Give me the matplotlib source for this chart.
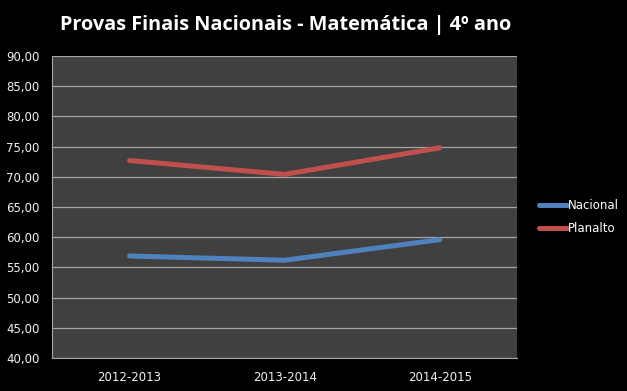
import matplotlib.pyplot as plt

anos = ["2012-2013", "2013-2014", "2014-2015"]
nacional = [56.9, 56.2, 59.6]
planalto = [72.7, 70.4, 74.8]
yticks = [40, 45, 50, 55, 60, 65, 70, 75, 80, 85, 90]

fig = plt.figure(figsize=(6.27, 3.91), dpi=100, facecolor="black")
ax = fig.add_axes([0.083, 0.084, 0.742, 0.773])
ax.set_facecolor("#404040")

x = range(len(anos))
ax.plot(x, nacional, color="#4F81BD", lw=3.6, solid_capstyle="round", label="Nacional")
ax.plot(x, planalto, color="#C0504D", lw=3.6, solid_capstyle="round", label="Planalto")

ax.set_xlim(-0.5, 2.5)
ax.set_ylim(40, 90)
ax.set_yticks(yticks)
ax.set_yticklabels([f"{v:.2f}".replace(".", ",") for v in yticks])
ax.set_xticks(list(x))
ax.set_xticklabels(anos)
ax.grid(axis="y", color="#a6a6a6", lw=0.9)
ax.set_axisbelow(True)
ax.tick_params(colors="#f2f2f2", labelsize=8.5, length=0)
ax.tick_params(axis="y", pad=9)
ax.tick_params(axis="x", pad=9)
for s in ["top", "right"]:
    ax.spines[s].set_visible(False)
for s in ["left", "bottom"]:
    ax.spines[s].set_color("#a6a6a6")

fig.text(0.456, 0.936, "Provas Finais Nacionais - Matemática | 4º ano",
         color="white", fontsize=14.3, fontweight="bold", family="Open Sans",
         ha="center", va="center")

leg = fig.legend(loc="center left", bbox_to_anchor=(0.842, 0.445), frameon=False,
                 fontsize=8.5, labelcolor="white", handlelength=2.4, handletextpad=0.1,
                 labelspacing=0.9)

fig.savefig("out.png", dpi=100, facecolor="black")
